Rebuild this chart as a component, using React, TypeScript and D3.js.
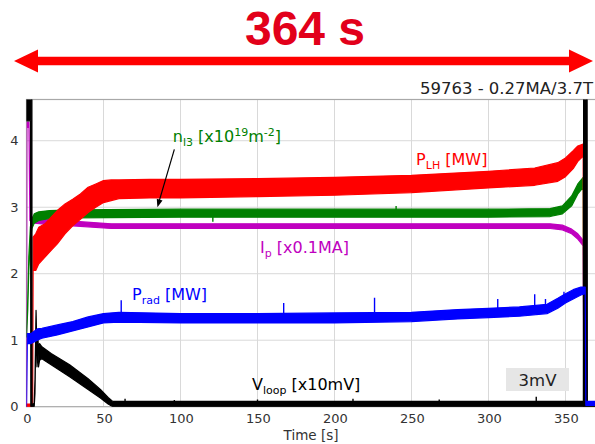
import React from 'react';
import * as d3 from 'd3';

const W = 595;
const H = 444;

const X_TICKS = [0, 50, 100, 150, 200, 250, 300, 350];
const Y_TICKS = [0, 1, 2, 3, 4];

// Lower-hybrid power P_LH [MW]: time, lower and upper envelope of the noisy trace
const PLH_T = [0, 4.0, 4.3, 6, 8, 12, 16, 20, 25, 30, 35, 40, 45, 50, 55, 60, 80, 100, 150, 200, 250, 300, 330, 345, 350, 355, 358, 361.5, 361.9];
const PLH_LO = [0, 0, 2.05, 2.05, 2.15, 2.25, 2.35, 2.45, 2.6, 2.72, 2.82, 2.92, 3.0, 3.07, 3.1, 3.13, 3.14, 3.14, 3.16, 3.18, 3.22, 3.29, 3.33, 3.39, 3.46, 3.58, 3.69, 3.77, 0];
const PLH_HI = [0.04, 0.04, 2.55, 2.6, 2.7, 2.75, 2.85, 2.95, 3.05, 3.12, 3.2, 3.3, 3.35, 3.4, 3.41, 3.41, 3.42, 3.42, 3.43, 3.45, 3.48, 3.54, 3.59, 3.67, 3.74, 3.85, 3.92, 3.95, 0.04];

// Line-integrated density n_l3 [x10^19 m^-2]
const NL3_T = [0, 0.8, 1.5, 2.5, 3.5, 5, 8, 15, 30, 100, 200, 300, 340, 348, 354, 358, 361.5, 361.9];
const NL3_LO = [1.05, 1.45, 2.05, 2.5, 2.68, 2.76, 2.8, 2.83, 2.84, 2.85, 2.85, 2.85, 2.86, 2.9, 3.02, 3.2, 3.3, 0];
const NL3_HI = [1.15, 1.6, 2.25, 2.7, 2.82, 2.9, 2.93, 2.95, 2.96, 2.97, 2.97, 2.97, 2.98, 3.02, 3.17, 3.35, 3.45, 0.04];
const NL3_SPIKE_T = [121, 240];
const NL3_SPIKE_BASE = [2.86, 2.86];
const NL3_SPIKE_TIP = [2.78, 3.02];

// Plasma current I_p [x0.1 MA]
const IP_T = [0, 0.3, 1.6, 2.2, 5, 10, 30, 55, 100, 340, 348, 354, 358, 361.5, 361.9];
const IP_LO = [0, 4.2, 4.2, 2.8, 2.76, 2.75, 2.72, 2.68, 2.68, 2.68, 2.66, 2.6, 2.52, 2.42, 0];
const IP_HI = [0.04, 4.28, 4.28, 2.88, 2.83, 2.82, 2.79, 2.75, 2.75, 2.75, 2.73, 2.67, 2.6, 2.5, 0.04];

// Radiated power P_rad [MW]
const PRAD_T = [0, 0.5, 3, 7, 10, 20, 30, 40, 50, 60, 100, 150, 200, 250, 280, 300, 320, 338, 345, 350, 355, 360, 362.8, 363.2, 370];
const PRAD_LO = [0, 0.95, 0.95, 1.0, 1.03, 1.08, 1.14, 1.2, 1.26, 1.27, 1.26, 1.26, 1.26, 1.28, 1.32, 1.34, 1.36, 1.4, 1.48, 1.56, 1.62, 1.68, 1.7, 0.02, 0.02];
const PRAD_HI = [0.03, 1.1, 1.1, 1.17, 1.18, 1.23, 1.28, 1.35, 1.4, 1.42, 1.4, 1.4, 1.41, 1.42, 1.46, 1.48, 1.5, 1.54, 1.63, 1.7, 1.76, 1.8, 1.8, 0.08, 0.08];
const PRAD_SPIKE_T = [61.5, 167, 226, 306, 330, 337, 349];
const PRAD_SPIKE_BASE = [1.3, 1.3, 1.3, 1.4, 1.4, 1.45, 1.55];
const PRAD_SPIKE_TIP = [1.6, 1.56, 1.64, 1.62, 1.69, 1.62, 1.73];

// Loop voltage V_loop [x10 mV]; saturates at breakdown and at termination
const VL_T = [0, 2.6, 2.8, 3.5, 3.6, 5.0, 5.5, 6.2, 6.8, 7.3, 7.8, 8.5, 10, 16, 28, 40, 48, 53, 56, 60, 361.6, 361.8, 364.0, 364.2, 370];
const VL_LO = [4.3, 4.3, 0, 0, 0, 0, 0.2, 1.3, 0.6, 0.9, 0.6, 0.7, 0.72, 0.63, 0.45, 0.26, 0.13, 0.04, 0.0, 0.0, 0.0, 0, 0, 0, 0];
const VL_HI = [6, 6, 6, 6, 0.03, 0.05, 0.4, 1.45, 0.8, 1.1, 0.85, 0.95, 0.9, 0.8, 0.63, 0.42, 0.26, 0.14, 0.08, 0.08, 0.08, 6, 6, 0.03, 0.03];
const VL_SPIKE_T = [64, 96, 150, 212, 268, 331];
const VL_SPIKE_BASE = [0.05, 0.05, 0.05, 0.05, 0.05, 0.05];
const VL_SPIKE_TIP = [0.12, 0.1, 0.11, 0.12, 0.11, 0.15];

const FONT = 'DejaVu Sans, Verdana, sans-serif';

export default function App() {
  const left = 26.5;
  const right = 596.3;
  const top = 99.5;
  const bottom = 406.7;

  const x = d3.scaleLinear().domain([0, 370]).range([left, right]);
  const y = d3.scaleLinear().domain([0, 4.62]).range([bottom, top]);

  const band = (t: number[], lo: number[], hi: number[]) =>
    d3
      .area<number>()
      .x((d) => x(d))
      .y0((_, i) => y(lo[i]))
      .y1((_, i) => y(hi[i]))(t) || '';

  const spikes = (t: number[], base: number[], tip: number[]) =>
    t.map((tt, i) => `M${x(tt)},${y(base[i])}L${x(tt)},${y(tip[i])}`).join('');

  const series = [
    { key: 'ip', color: '#bf00bf', d: band(IP_T, IP_LO, IP_HI), s: '' },
    { key: 'nl3', color: '#008000', d: band(NL3_T, NL3_LO, NL3_HI), s: spikes(NL3_SPIKE_T, NL3_SPIKE_BASE, NL3_SPIKE_TIP) },
    { key: 'plh', color: '#ff0000', d: band(PLH_T, PLH_LO, PLH_HI), s: '' },
    { key: 'vl', color: '#000000', d: band(VL_T, VL_LO, VL_HI), s: spikes(VL_SPIKE_T, VL_SPIKE_BASE, VL_SPIKE_TIP) },
    { key: 'prad', color: '#0000ff', d: band(PRAD_T, PRAD_LO, PRAD_HI), s: spikes(PRAD_SPIKE_T, PRAD_SPIKE_BASE, PRAD_SPIKE_TIP) },
  ];

  // density label arrow (data coordinates)
  const arrFrom = [96, 3.87];
  const arrTo = [85, 3.0];
  const ax0 = x(arrFrom[0]);
  const ay0 = y(arrFrom[1]);
  const ax1 = x(arrTo[0]);
  const ay1 = y(arrTo[1]);
  const ang = Math.atan2(ay1 - ay0, ax1 - ax0);
  const hl = 8;
  const hw = 3;
  const head = [
    [ax1, ay1],
    [ax1 - hl * Math.cos(ang) + hw * Math.sin(ang), ay1 - hl * Math.sin(ang) - hw * Math.cos(ang)],
    [ax1 - hl * Math.cos(ang) - hw * Math.sin(ang), ay1 - hl * Math.sin(ang) + hw * Math.cos(ang)],
  ];

  // span arrow above the plot
  const ay = 61;
  const spanL = 14;
  const spanR = 593;
  const headLen = 24;
  const headHalf = 11.5;
  const lineHalf = 4.2;
  const spanPath = [
    `M${spanL},${ay}`,
    `L${spanL + headLen},${ay - headHalf}`,
    `L${spanL + headLen},${ay - lineHalf}`,
    `L${spanR - headLen},${ay - lineHalf}`,
    `L${spanR - headLen},${ay - headHalf}`,
    `L${spanR},${ay}`,
    `L${spanR - headLen},${ay + headHalf}`,
    `L${spanR - headLen},${ay + lineHalf}`,
    `L${spanL + headLen},${ay + lineHalf}`,
    `L${spanL + headLen},${ay + headHalf}`,
    'Z',
  ].join('');

  const fs = 16;
  const sub = 11;

  return (
    <svg
      width={W}
      height={H}
      viewBox={`0 0 ${W} ${H}`}
      style={{ position: 'absolute', left: 0, top: 0, background: '#fff' }}
      fontFamily={FONT}
    >
      <defs>
        <clipPath id="plotClip">
          <rect x={left} y={top} width={right - left} height={bottom - top} />
        </clipPath>
      </defs>
      <rect x={0} y={0} width={W} height={H} fill="#fff" />

      {/* headline and span arrow */}
      <text
        x={305}
        y={45}
        textAnchor="middle"
        fontFamily="Liberation Sans, Arial, sans-serif"
        fontWeight="bold"
        fontSize={48}
        fill="#e2001a"
      >
        364 s
      </text>
      <path d={spanPath} fill="#ff0000" />

      {/* shot title */}
      <text x={593} y={94} textAnchor="end" fontSize={16.5} fill="#222">
        59763 - 0.27MA/3.7T
      </text>

      {/* grid */}
      <g stroke="#d9d9d9" strokeWidth={1}>
        {X_TICKS.filter((t) => t > 0).map((t) => (
          <line key={`gx${t}`} x1={x(t)} x2={x(t)} y1={top} y2={bottom} />
        ))}
        {Y_TICKS.filter((v) => v > 0).map((v) => (
          <line key={`gy${v}`} x1={left} x2={right} y1={y(v)} y2={y(v)} />
        ))}
      </g>

      {/* frame */}
      <rect x={left} y={top} width={right - left} height={bottom - top} fill="none" stroke="#a8a8a8" strokeWidth={1.2} />

      {/* traces */}
      <g clipPath="url(#plotClip)">
        {series.map((s) => (
          <g key={s.key}>
            <path d={s.d} fill={s.color} stroke={s.color} strokeWidth={1.2} strokeLinejoin="round" />
            {s.s && <path d={s.s} fill="none" stroke={s.color} strokeWidth={1.4} />}
          </g>
        ))}
      </g>

      {/* tick labels */}
      <g fontSize={13} fill="#333">
        {X_TICKS.map((t) => (
          <text key={`tx${t}`} x={x(t) + 1} y={423} textAnchor="middle">
            {t}
          </text>
        ))}
        {Y_TICKS.map((v) => (
          <text key={`ty${v}`} x={18.5} y={y(v)} dy="0.36em" textAnchor="end">
            {v}
          </text>
        ))}
      </g>
      <text x={311} y={440} textAnchor="middle" fontSize={13.5} fill="#333">
        Time [s]
      </text>

      {/* trace labels */}
      <text x={x(253)} y={y(3.63)} fontSize={fs} fill="#ff0000">
        P<tspan dy={4} fontSize={sub}>LH</tspan>
        <tspan dy={-4}>{' [MW]'}</tspan>
      </text>
      <text x={x(95)} y={y(3.98)} fontSize={fs} fill="#008000">
        n<tspan dy={4} fontSize={sub}>l3</tspan>
        <tspan dy={-4}>{' [x10'}</tspan>
        <tspan dy={-6} fontSize={sub}>19</tspan>
        <tspan dy={6}>m</tspan>
        <tspan dy={-6} fontSize={sub}>-2</tspan>
        <tspan dy={6}>]</tspan>
      </text>
      <text x={x(151.6)} y={y(2.31)} fontSize={fs} fill="#bf00bf">
        I<tspan dy={4} fontSize={sub}>p</tspan>
        <tspan dy={-4}>{' [x0.1MA]'}</tspan>
      </text>
      <text x={x(68.5)} y={y(1.6)} fontSize={fs} fill="#0000ff">
        P<tspan dy={4} fontSize={sub}>rad</tspan>
        <tspan dy={-4}>{' [MW]'}</tspan>
      </text>
      <text x={x(146.4)} y={y(0.25)} fontSize={fs} fill="#000">
        V<tspan dy={4} fontSize={sub}>loop</tspan>
        <tspan dy={-4}>{' [x10mV]'}</tspan>
      </text>

      {/* density annotation arrow */}
      <line x1={ax0} y1={ay0} x2={ax1 - 4 * Math.cos(ang)} y2={ay1 - 4 * Math.sin(ang)} stroke="#000" strokeWidth={1.2} />
      <polygon points={head.map((p) => p.join(',')).join(' ')} fill="#000" />

      {/* scale badge */}
      <rect x={506} y={368} width={63} height={23} fill="#e6e6e6" />
      <text x={537.5} y={386} textAnchor="middle" fontSize={16.5} fill="#222">
        3mV
      </text>
    </svg>
  );
}
